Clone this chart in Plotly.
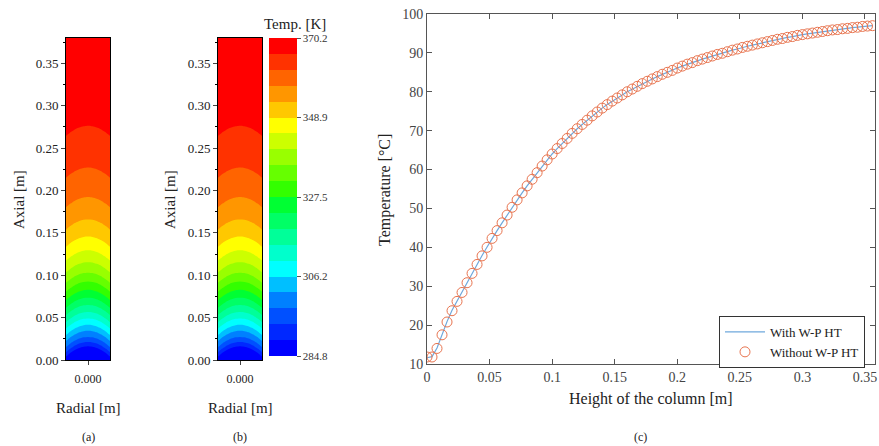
import numpy as np
import plotly.graph_objects as go

# ---------------- data ----------------
height_m = [0.000, 0.004, 0.008, 0.012, 0.016, 0.020, 0.024, 0.028, 0.032, 0.036,
            0.040, 0.044, 0.048, 0.052, 0.056, 0.060, 0.064, 0.068, 0.072, 0.076,
            0.080, 0.084, 0.088, 0.092, 0.096, 0.100, 0.104, 0.108, 0.112, 0.116,
            0.120, 0.124, 0.128, 0.132, 0.136, 0.140, 0.144, 0.148, 0.152, 0.156,
            0.160, 0.164, 0.168, 0.172, 0.176, 0.180, 0.184, 0.188, 0.192, 0.196,
            0.200, 0.204, 0.208, 0.212, 0.216, 0.220, 0.224, 0.228, 0.232, 0.236,
            0.240, 0.244, 0.248, 0.252, 0.256, 0.260, 0.264, 0.268, 0.272, 0.276,
            0.280, 0.284, 0.288, 0.292, 0.296, 0.300, 0.304, 0.308, 0.312, 0.316,
            0.320, 0.324, 0.328, 0.332, 0.336, 0.340, 0.344, 0.348, 0.352, 0.356]

temp_without_C = [11.8, 11.8, 14.0, 17.5, 20.8, 23.7, 26.1, 28.4, 30.9, 33.3,
                  35.6, 37.8, 40.0, 42.3, 44.3, 46.3, 48.3, 50.3, 52.2, 54.0,
                  55.8, 57.5, 59.2, 60.9, 62.5, 64.0, 65.4, 66.7, 68.0, 69.3,
                  70.5, 71.6, 72.7, 73.8, 74.8, 75.8, 76.7, 77.6, 78.4, 79.2,
                  80.0, 80.7, 81.4, 82.1, 82.7, 83.3, 83.9, 84.5, 85.0, 85.5,
                  86.1, 86.6, 87.1, 87.5, 88.0, 88.4, 88.8, 89.2, 89.6, 89.9,
                  90.3, 90.7, 91.0, 91.4, 91.7, 92.0, 92.3, 92.6, 92.9, 93.2,
                  93.5, 93.7, 94.0, 94.2, 94.5, 94.7, 94.9, 95.1, 95.3, 95.5,
                  95.7, 95.9, 96.0, 96.2, 96.3, 96.5, 96.6, 96.8, 96.9, 97.0]

temp_with_C = [11.6, 11.9, 14.1, 17.6, 20.9, 23.8, 26.2, 28.5, 31.0, 33.4,
               35.7, 37.9, 40.1, 42.3, 44.3, 46.3, 48.3, 50.3, 52.2, 54.0,
               55.8, 57.5, 59.2, 60.9, 62.5, 64.0, 65.4, 66.7, 68.0, 69.3,
               70.5, 71.6, 72.7, 73.8, 74.8, 75.8, 76.7, 77.6, 78.4, 79.2,
               80.0, 80.7, 81.4, 82.1, 82.7, 83.3, 83.9, 84.5, 85.0, 85.5,
               86.1, 86.6, 87.1, 87.5, 88.0, 88.4, 88.8, 89.2, 89.6, 89.9,
               90.3, 90.7, 91.0, 91.4, 91.7, 92.0, 92.3, 92.6, 92.9, 93.2,
               93.5, 93.7, 94.0, 94.2, 94.5, 94.7, 94.9, 95.1, 95.3, 95.5,
               95.7, 95.9, 96.0, 96.2, 96.3, 96.5, 96.6, 96.8, 96.9, 97.0]

# radial positions across the column and isotherm upward shift (m)
radial_m = [-0.0125, -0.0100, -0.0075, -0.0050, -0.0025, 0.0, 0.0025, 0.0050, 0.0075, 0.0100, 0.0125]
isotherm_shift_m = [-0.0060, -0.0017, 0.0017, 0.0041, 0.0055, 0.0060, 0.0055, 0.0041, 0.0017, -0.0017, -0.0060]

cbar_ticks_K = [284.8, 306.2, 327.5, 348.9, 370.2]
cbar_labels = ["284.8", "306.2", "327.5", "348.9", "370.2"]
T_min_K, T_max_K, n_levels = 284.8, 370.2, 20

# band colours (bottom -> top), one per contour level band
band_colors = ["#0000FF", "#0028FF", "#0050FF", "#0080FF", "#00BFFF",
               "#00FFFF", "#00FFCC", "#00FF99", "#00FF66", "#00FF33",
               "#33FF00", "#66FF00", "#99FF00", "#CCFF00", "#FFFF00",
               "#FFC800", "#FF9600", "#FF6400", "#FF3200", "#FF0000"]

# --------------- field for contour panels ---------------
axial_grid = np.linspace(0.0, 0.38, 191)
hK = np.array(height_m)
TK = np.array(temp_without_C) + 273.15
field = np.array([[np.interp(z - s, hK, TK) for s in isotherm_shift_m] for z in axial_grid])

W, H = 879, 446
def px(x): return x / W
def py(y): return 1 - y / H

SERIF = "Liberation Serif, Times New Roman, serif"
colorscale = [[0.0, band_colors[0]]]
for k, c in enumerate(band_colors):
    colorscale.append([(k + 0.5) / n_levels, c])
colorscale.append([1.0, band_colors[-1]])

contours = dict(start=T_min_K, end=T_max_K, size=(T_max_K - T_min_K) / n_levels, coloring="fill", showlines=False)

fig = go.Figure()
for i, show in [(1, False), (2, True)]:
    fig.add_trace(go.Contour(
        x=radial_m, y=axial_grid, z=field,
        xaxis="x" if i == 1 else "x2", yaxis="y" if i == 1 else "y2",
        colorscale=colorscale, zmin=T_min_K, zmax=T_max_K, zauto=False,
        contours=contours, line=dict(width=0), hoverinfo="skip",
        showscale=show,
        colorbar=dict(x=px(269), xanchor="left", xpad=0, thickness=28, thicknessmode="pixels",
                      len=318 / H, lenmode="fraction", y=py(38), yanchor="top", ypad=0,
                      outlinewidth=0, tickvals=cbar_ticks_K, ticktext=cbar_labels,
                      ticks="outside", ticklen=4, tickcolor="#555",
                      tickfont=dict(family=SERIF, size=11, color="#333")),
    ))

fig.add_trace(go.Scatter(x=height_m, y=temp_with_C, mode="lines", name="With W-P HT",
                         line=dict(color="#6FA8DC", width=1.2), xaxis="x3", yaxis="y3"))
fig.add_trace(go.Scatter(x=height_m, y=temp_without_C, mode="markers", name="Without W-P HT",
                         marker=dict(symbol="circle-open", size=10, color="#E8744F", line=dict(width=1)),
                         xaxis="x3", yaxis="y3", cliponaxis=True))

col_x = dict(range=[-0.0125, 0.0125], tickvals=[0], tickformat=".3f", ticks="outside", ticklen=4,
             ticklabelstandoff=4,
             showline=True, linecolor="black", linewidth=1, mirror=True, showgrid=False, zeroline=False,
             tickfont=dict(family=SERIF, size=12, color="#222"), automargin=False)
col_y = dict(range=[0, 0.38], dtick=0.05, tick0=0, tickformat=".2f", ticks="outside", ticklen=4,
             minor=dict(dtick=0.025, ticks="outside", ticklen=2, tickcolor="black"),
             showline=True, linecolor="black", linewidth=1, mirror=True, showgrid=False, zeroline=False,
             tickfont=dict(family=SERIF, size=13, color="#222"), automargin=False)

grey = "#555"
fig.update_layout(
    width=W, height=H, margin=dict(l=0, r=0, t=0, b=0, autoexpand=False),
    paper_bgcolor="white", plot_bgcolor="white",
    font=dict(family=SERIF, color="#222"),
    xaxis=dict(domain=[px(66), px(110)], anchor="y", **col_x),
    yaxis=dict(domain=[py(360), py(38)], anchor="x", **col_y),
    xaxis2=dict(domain=[px(218), px(262)], anchor="y2", **col_x),
    yaxis2=dict(domain=[py(360), py(38)], anchor="x2", **col_y),
    xaxis3=dict(domain=[px(427), px(875)], anchor="y3", range=[0, 0.358],
                tickvals=[0, 0.05, 0.1, 0.15, 0.2, 0.25, 0.3, 0.35],
                ticktext=["0", "0.05", "0.1", "0.15", "0.2", "0.25", "0.3", "0.35"],
                ticks="inside", ticklen=5, tickcolor=grey, showline=True, linecolor=grey,
                linewidth=1, mirror="allticks", showgrid=False, zeroline=False, automargin=False,
                tickfont=dict(family=SERIF, size=14, color="#444")),
    yaxis3=dict(domain=[py(364), py(14)], anchor="x3", range=[10, 100], dtick=10,
                ticks="inside", ticklen=5, tickcolor=grey, showline=True, linecolor=grey,
                linewidth=1, mirror="allticks", showgrid=False, zeroline=False, automargin=False,
                tickfont=dict(family=SERIF, size=14, color="#444")),
    showlegend=True,
    legend=dict(x=px(865), xanchor="right", y=py(316), yanchor="top",
                bgcolor="white", bordercolor="#333", borderwidth=1, itemwidth=40,
                font=dict(family=SERIF, size=13, color="#222"), tracegroupgap=0),
)

ann = [
    dict(text="Axial [m]", x=px(19), y=py(200), textangle=-90, size=15),
    dict(text="Axial [m]", x=px(170), y=py(200), textangle=-90, size=15),
    dict(text="Radial [m]", x=px(88), y=py(408), textangle=0, size=15),
    dict(text="Radial [m]", x=px(240), y=py(408), textangle=0, size=15),
    dict(text="(a)", x=px(88), y=py(437), textangle=0, size=12),
    dict(text="(b)", x=px(240), y=py(437), textangle=0, size=12),
    dict(text="(c)", x=px(640), y=py(437), textangle=0, size=12),
    dict(text="Temp. [K]", x=px(295), y=py(24), textangle=0, size=15),
    dict(text="Temperature [°C]", x=px(385), y=py(190), textangle=-90, size=16),
    dict(text="Height of the column [m]", x=px(651), y=py(399), textangle=0, size=16),
]
for a in ann:
    fig.add_annotation(text=a["text"], x=a["x"], y=a["y"], xref="paper", yref="paper",
                       showarrow=False, textangle=a["textangle"], xanchor="center", yanchor="middle",
                       font=dict(family=SERIF, size=a["size"], color="#222"))

fig.write_html("out.html")
